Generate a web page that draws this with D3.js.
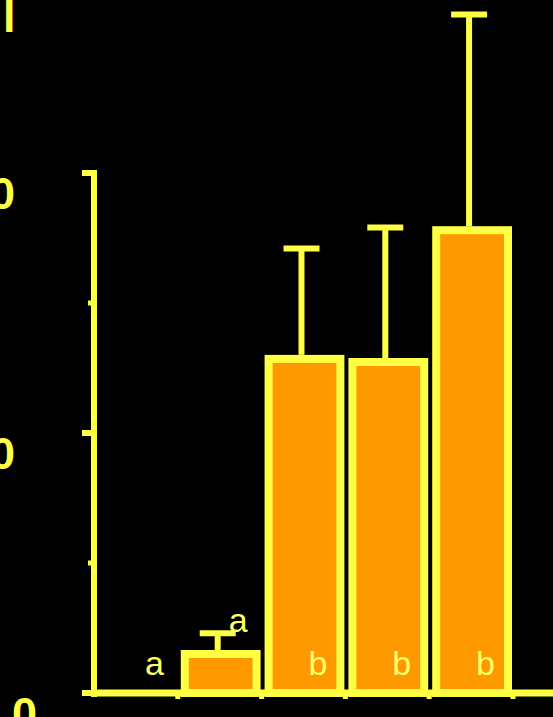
<!DOCTYPE html>
<html>
<head>
<meta charset="utf-8">
<script src="https://cdn.jsdelivr.net/npm/d3@7"></script>
<style>
  html, body { margin: 0; padding: 0; background: #000; overflow: hidden; }
  svg { display: block; }
</style>
</head>
<body>
<svg id="chart" width="553" height="717"></svg>
<script>
// ---- data ----
const categories = ["G1", "G2", "G3", "G4", "G5"];
const means = [0, 1.5, 12.85, 12.73, 17.8];
const errors = [0, 0.8, 4.25, 5.17, 8.3];
const letters = ["a", "a", "b", "b", "b"];
const majorTicks = [0, 10, 20];
const minorTicks = [5, 15];
const yTickLabels = ["0", "10", "20"];

const YELLOW = "#FFFF44";
const ORANGE = "#FF9900";

const svg = d3.select("#chart");
svg.append("rect").attr("width", 553).attr("height", 717).attr("fill", "#000");

const y = d3.scaleLinear().domain([0, 20]).range([693, 173]);
const x = d3.scaleBand().domain(categories).range([94, 513]).padding(0);

const data = categories.map((c, i) => ({ c, v: means[i], e: errors[i], l: letters[i] }));

// bars
svg.append("g").selectAll("rect.bar")
  .data(data)
  .join("rect")
  .attr("class", "bar")
  .attr("x", d => x(d.c) + 7)
  .attr("width", x.bandwidth() - 12)
  .attr("y", d => y(d.v))
  .attr("height", d => y(0) - y(d.v))
  .attr("fill", ORANGE)
  .attr("stroke", YELLOW)
  .attr("stroke-width", 8);

// error bars
const eb = svg.append("g");
data.filter(d => d.e > 0).forEach(d => {
  const cx = x(d.c) + x.bandwidth() / 2 - 2;
  eb.append("line")
    .attr("x1", cx).attr("x2", cx)
    .attr("y1", y(d.v) - 4).attr("y2", y(d.v + d.e))
    .attr("stroke", YELLOW).attr("stroke-width", 6);
  eb.append("line")
    .attr("x1", cx - 18).attr("x2", cx + 18)
    .attr("y1", y(d.v + d.e)).attr("y2", y(d.v + d.e))
    .attr("stroke", YELLOW).attr("stroke-width", 6);
});

// letters
svg.append("g").selectAll("text")
  .data(data)
  .join("text")
  .attr("x", d => x(d.c) + x.bandwidth() / 2 + (d.l === "a" ? 9 : 5))
  .attr("y", d => (d.v > 0 && y(d.v) > y(0) - 60) ? y(d.v + d.e) - 1 : y(0) - 18)
  .attr("font-family", "Liberation Sans, Arial, sans-serif")
  .attr("font-size", 34)
  .attr("fill", "#FFFF66")
  .text(d => d.l);

// x axis baseline
const axisG = svg.append("g");
axisG.append("line")
  .attr("x1", 91).attr("x2", 553)
  .attr("y1", y(0)).attr("y2", y(0))
  .attr("stroke", YELLOW).attr("stroke-width", 7);
// x ticks at band boundaries
const bounds = categories.map(c => x(c) + x.bandwidth());
axisG.selectAll("line.xt")
  .data(bounds)
  .join("line")
  .attr("class", "xt")
  .attr("x1", d => d).attr("x2", d => d)
  .attr("y1", y(0)).attr("y2", y(0) + 6)
  .attr("stroke", YELLOW).attr("stroke-width", 5);

// y axis
axisG.append("line")
  .attr("x1", 94).attr("x2", 94)
  .attr("y1", y(20) - 2).attr("y2", y(0) + 4)
  .attr("stroke", YELLOW).attr("stroke-width", 6);
axisG.selectAll("line.ymaj")
  .data(majorTicks)
  .join("line")
  .attr("class", "ymaj")
  .attr("x1", 82).attr("x2", 97)
  .attr("y1", d => y(d)).attr("y2", d => y(d))
  .attr("stroke", YELLOW).attr("stroke-width", 6);
axisG.selectAll("line.ymin")
  .data(minorTicks)
  .join("line")
  .attr("class", "ymin")
  .attr("x1", 88).attr("x2", 97)
  .attr("y1", d => y(d)).attr("y2", d => y(d))
  .attr("stroke", YELLOW).attr("stroke-width", 5);

// y tick labels (offset below ticks as in the original)
axisG.selectAll("text.yl")
  .data(majorTicks)
  .join("text")
  .attr("class", "yl")
  .attr("x", d => d === 0 ? 37 : 15)
  .attr("y", d => y(d) + 36)
  .attr("text-anchor", "end")
  .attr("font-family", "Liberation Sans, Arial, sans-serif")
  .attr("font-weight", "bold")
  .attr("font-size", 45)
  .attr("fill", YELLOW)
  .text((d, i) => yTickLabels[i]);

// cropped glyph at the top-left
svg.append("text")
  .attr("x", 3).attr("y", 32)
  .attr("font-family", "Liberation Sans, Arial, sans-serif")
  .attr("font-weight", "bold")
  .attr("font-size", 45)
  .attr("fill", YELLOW)
  .text("l");
</script>
</body>
</html>
